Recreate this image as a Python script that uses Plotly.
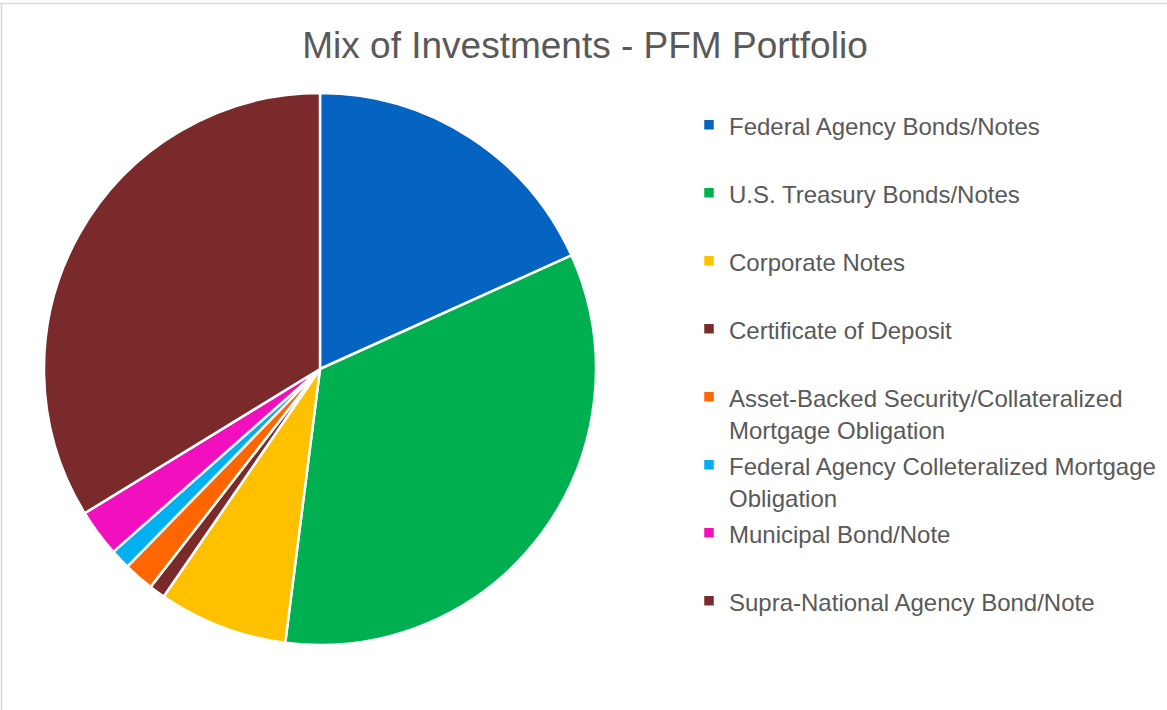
import plotly.graph_objects as go

categories = [
    "Federal Agency Bonds/Notes",
    "U.S. Treasury Bonds/Notes",
    "Corporate Notes",
    "Certificate of Deposit",
    "Asset-Backed Security/Collateralized<br>Mortgage Obligation",
    "Federal Agency Colleteralized Mortgage<br>Obligation",
    "Municipal Bond/Note",
    "Supra-National Agency Bond/Note",
]
values = [18.25, 33.76, 7.57, 0.94, 1.78, 1.17, 2.78, 33.75]
colors = ["#0563C1", "#00B050", "#FFC000", "#7B2A2A", "#FF6600", "#00B0F0", "#F20FBE", "#7A2A2A"]


def legend_label(c):
    # every legend row is two lines tall, text drawn at 24px
    lines = c.split("<br>")
    if len(lines) == 1:
        lines.append(" ")
    return "<br>".join("<span style='font-size:24px'>%s</span>" % ln for ln in lines)


legend_labels = [legend_label(c) for c in categories]

W, H = 1167, 710
fig = go.Figure(go.Pie(
    labels=legend_labels,
    values=values,
    sort=False,
    direction="clockwise",
    rotation=0,
    marker=dict(colors=colors, line=dict(color="white", width=2.5)),
    textinfo="none",
    hoverinfo="label+percent",
    domain=dict(x=[44 / W, 596 / W], y=[1 - 645 / H, 1 - 93 / H]),
))

fig.update_layout(
    width=W, height=H,
    margin=dict(l=0, r=0, t=0, b=0),
    paper_bgcolor="white",
    font=dict(family="Liberation Sans, Arial, sans-serif", color="#595959"),
    title=dict(text="Mix of Investments - PFM Portfolio", x=585 / W, xanchor="center",
               y=1 - 45 / H, yanchor="middle", yref="container",
               font=dict(size=37, color="#595959")),
    legend=dict(x=689 / W, xanchor="left", y=1 - 102 / H, yanchor="top",
                font=dict(size=25, color="#595959"), valign="top",
                bgcolor="rgba(0,0,0,0)", traceorder="normal"),
    shapes=[
        dict(type="line", xref="paper", yref="paper", x0=0, x1=1, y0=1 - 3.5 / H, y1=1 - 3.5 / H,
             line=dict(color="#D9D9D9", width=1.5)),
        dict(type="line", xref="paper", yref="paper", x0=1.5 / W, x1=1.5 / W, y0=0, y1=1 - 3.5 / H,
             line=dict(color="#D9D9D9", width=1.5)),
    ],
)

fig.write_html("out.html", config={"displayModeBar": False},
               post_script="document.body.style.margin='0';")
